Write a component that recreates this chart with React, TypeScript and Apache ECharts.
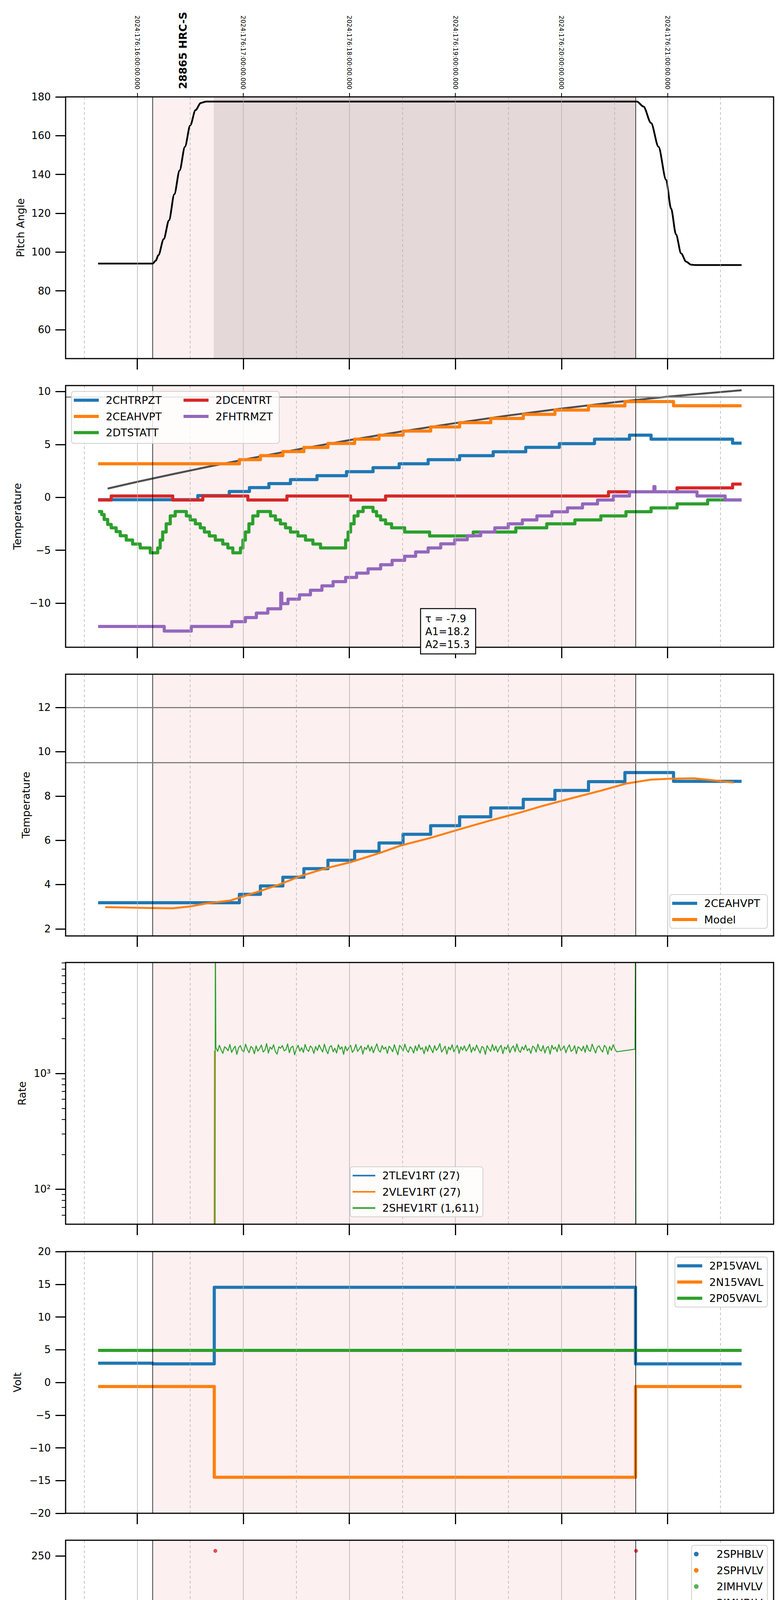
import React, { useEffect, useRef } from "react";
import * as echarts from "echarts";

// x values are minutes after 11:00 local (EDT) on 2024-06-24 (day 176); 60 -> 12h -> 16:00 UTC
const X_MIN = 19.5;
const X_MAX = 420;
const HOUR_TICKS = [60, 120, 180, 240, 300, 360];
const HALF_TICKS = [30, 90, 150, 210, 270, 330, 390];
const ALL_TICKS = [30, 60, 90, 120, 150, 180, 210, 240, 270, 300, 330, 360, 390];
const OBS_START = 68.8;
const OBS_STOP = 341.9;
const HV_ON = 103.3;

// y tick labels per panel
const PITCH_TICKS = [60, 80, 100, 120, 140, 160, 180];
const TEMP_TICKS = [-10, -5, 0, 5, 10];
const MODEL_TICKS = [2, 4, 6, 8, 10, 12];
const RATE_TICKS = [2, 3];
const RATE_MINOR = [60, 70, 80, 90, 200, 300, 400, 500, 600, 700, 800, 900, 2000, 3000, 4000, 5000, 6000, 7000, 8000, 9000];
const VOLT_TICKS = [-20, -15, -10, -5, 0, 5, 10, 15, 20];
const HV_TICKS = [0, 50, 100, 150, 200, 250];
const DET_TICKS = [0, 2.5, 5, 7.5, 10, 12.5, 15, 17.5];
const FEA_TICKS = [-10, -8, -6, -4, -2, 0];

// panel 1
const PITCH = [[37.9, 94.1], [68.8, 94.1], [70.5, 95.6], [72, 98.4], [75, 106.7], [78, 116.4], [81, 129.8], [84, 142.1], [87, 154.3], [90, 165.3], [93, 173.2], [96, 176.9], [99, 177.6], [342.7, 177.6], [346.4, 175.0], [350.7, 166.5], [354.9, 154.3], [359.2, 137.2], [362.0, 122.5], [364.8, 109.1], [367.7, 99.3], [370.5, 95.1], [373.3, 93.5], [376, 93.3], [401.9, 93.3]];

// panel 2
const FIT = [[43.3, 0.83], [60, 1.47], [80, 2.19], [100, 2.89], [120, 3.56], [150, 4.51], [180, 5.41], [210, 6.24], [240, 7.02], [270, 7.74], [300, 8.39], [330, 8.99], [360, 9.52], [401.9, 10.13]];
const CHTRPZT = [[37.9, -0.22], [94.3, 0.17], [112.1, 0.55], [123.5, 0.92], [134.5, 1.3], [146.7, 1.68], [161.7, 2.05], [178.4, 2.43], [193.4, 2.81], [208.2, 3.18], [224.6, 3.56], [242.4, 3.94], [261.4, 4.31], [279.8, 4.73], [298.8, 5.08], [318.7, 5.5], [338.5, 5.88], [350.7, 5.5], [396.8, 5.12], [401.9, 5.12]];
const CEAHVPT = [[37.9, 3.18], [117.8, 3.56], [129.7, 3.94], [142.4, 4.33], [154.3, 4.72], [167.9, 5.1], [183.0, 5.5], [196.8, 5.88], [210.4, 6.27], [226.0, 6.66], [242.4, 7.06], [260.0, 7.46], [278.4, 7.85], [296.3, 8.25], [315.3, 8.65], [335.9, 9.06], [363.4, 8.66], [401.9, 8.66]];
const DTSTATT = [[37.9, -1.34], [39.9, -1.62], [41.3, -2.09], [43.3, -2.56], [45.3, -2.88], [48.1, -3.24], [50.4, -3.63], [53.8, -4.03], [57.4, -4.41], [61.7, -4.78], [67.4, -5.24], [71.6, -4.78], [73.0, -4.03], [74.4, -3.28], [76.4, -2.5], [78.7, -1.75], [81.5, -1.34], [87.8, -1.75], [90.0, -2.13], [92.9, -2.5], [95.7, -2.88], [98.0, -3.28], [100.8, -3.65], [104.2, -4.03], [108.4, -4.41], [111.3, -4.78], [114.1, -5.24], [118.4, -4.78], [119.8, -4.03], [121.2, -3.28], [123.2, -2.5], [125.4, -1.75], [128.3, -1.34], [135.4, -1.75], [138.2, -2.13], [141.0, -2.5], [143.9, -2.88], [146.7, -3.28], [150.9, -3.65], [155.2, -4.03], [159.4, -4.41], [163.7, -4.78], [177.9, -4.03], [179.3, -3.28], [180.7, -2.5], [182.7, -1.75], [184.9, -1.34], [187.8, -0.94], [193.4, -1.34], [195.4, -1.75], [197.7, -2.13], [200.5, -2.5], [203.9, -2.88], [211.3, -3.28], [225.4, -3.65], [250.1, -3.28], [274.2, -2.88], [291.7, -2.5], [307.6, -2.13], [322.3, -1.75], [336.5, -1.36], [350.7, -1.0], [365.4, -0.62], [382.7, -0.24], [401.9, -0.24]];
const DCENTRT = [[37.9, -0.25], [45.3, 0.13], [80.1, -0.25], [97.1, 0.13], [122.6, -0.25], [144.7, 0.13], [180.7, -0.25], [200.5, 0.13], [326.6, 0.53], [365.4, 0.9], [396.8, 1.26], [401.9, 1.26]];
const FHTRMZT = [[37.9, -12.2], [75.3, -12.64], [90.6, -12.2], [113.5, -11.75], [121.2, -11.36], [127.4, -10.94], [133.9, -10.53], [141.2, -9.06], [141.8, -10.04], [145.3, -9.62], [151.8, -9.21], [158.0, -8.78], [164.5, -8.36], [170.8, -7.97], [177.9, -7.57], [184.1, -7.16], [190.6, -6.76], [197.7, -6.37], [204.2, -5.95], [211.3, -5.57], [217.5, -5.16], [224.6, -4.78], [231.7, -4.39], [239.6, -4.01], [246.7, -3.63], [254.3, -3.28], [262.3, -2.88], [269.9, -2.5], [277.9, -2.13], [286.1, -1.75], [294.6, -1.37], [303.4, -1.0], [311.9, -0.62], [320.4, -0.25], [329.4, 0.13], [338.5, 0.53], [352.3, 1.02], [352.9, 0.53], [376.7, 0.13], [392.6, -0.25], [401.9, -0.25]];

// panel 3
const MODEL = [[41.9, 2.98], [67.4, 2.94], [80.1, 2.93], [90.0, 3.01], [98.5, 3.14], [112.7, 3.28], [118.4, 3.43], [129.7, 3.71], [141.0, 4.02], [152.3, 4.38], [166.5, 4.73], [180.7, 5.01], [197.7, 5.44], [209.0, 5.76], [226.0, 6.11], [243.0, 6.51], [260.0, 6.9], [277.0, 7.26], [288.4, 7.53], [305.3, 7.89], [322.3, 8.24], [336.5, 8.56], [350.7, 8.74], [362.0, 8.78], [374.7, 8.8], [384.6, 8.72], [397.4, 8.61]];

// panel 4 (rates, counts/s)
const TLEV1RT = [[37.9, 27], [401.9, 27]];
const VLEV1RT = [[37.9, 20], [103.5, 20], [103.7, 1560], [103.9, 27], [401.9, 27]];
const RATE_T0 = 104.5;
const RATE_DT = 0.99;
const SHEV_NOISE = [
  1680, 1550, 1750, 1600, 1490, 1700, 1650, 1570, 1780, 1520, 1630, 1720, 1460, 1670, 1740, 1580, 1540, 1790, 1610, 1510, 1710, 1660, 1480, 1730, 1560, 1640, 1760, 1530, 1590, 1810,
  1500, 1690, 1620, 1770, 1540, 1470, 1700, 1650, 1740, 1570, 1600, 1800, 1510, 1680, 1720, 1450, 1630, 1750, 1560, 1670, 1520, 1780, 1610, 1550, 1730, 1660, 1490, 1710, 1580, 1760,
  1640, 1530, 1790, 1590, 1480, 1690, 1740, 1540, 1650, 1500, 1770, 1620, 1700, 1460, 1720, 1570, 1670, 1750, 1520, 1600, 1780, 1550, 1630, 1730, 1470, 1680, 1610, 1760, 1560, 1710,
  1510, 1660, 1800, 1580, 1530, 1740, 1620, 1690, 1490, 1720, 1650, 1540, 1770, 1590, 1450, 1750, 1680, 1560, 1790, 1600, 1520, 1700, 1640, 1500, 1730, 1570, 1780, 1610, 1670, 1480,
  1710, 1550, 1760, 1630, 1510, 1740, 1580, 1660, 1810, 1530, 1620, 1720, 1470, 1690, 1600, 1770, 1540, 1650, 1750, 1490, 1700, 1590, 1730, 1560, 1640, 1790, 1520, 1680, 1570, 1760,
  1610, 1500, 1710, 1670, 1460, 1740, 1630, 1550, 1780, 1580, 1720, 1530, 1660, 1750, 1480, 1690, 1620, 1770, 1510, 1650, 1730, 1540, 1800, 1590, 1520, 1700, 1600, 1760, 1570, 1640,
  1490, 1720, 1680, 1530, 1790, 1610, 1560, 1740, 1500, 1670, 1710, 1470, 1750, 1620, 1690, 1540, 1780, 1580, 1630, 1730, 1510, 1660, 1770, 1550, 1600, 1740, 1480, 1700, 1650, 1570,
  1720, 1520, 1760, 1590, 1550, 1790, 1640, 1500, 1690, 1730, 1610, 1530, 1750, 1680, 1460, 1710, 1580, 1770, 1630, 1540,
];

// panel 5
const P15VAVL = [[37.9, 2.94], [68.8, 2.83], [103.6, 14.54], [341.9, 2.83], [401.9, 2.83]];
const N15VAVL = [[37.9, -0.63], [103.6, -14.49], [341.9, -0.63], [401.9, -0.63]];
const P05VAVL = [[37.9, 4.89], [401.9, 4.89]];

// panel 6
const SPHBLV_PTS = [[104.8, 117.8], [105.1, 101.6], [105.4, 101.6], [105.9, 96.9], [106.5, 91.6], [107.0, 86.4], [107.9, 82.1], [108.7, 78.8]];
const SPHBLV_BAND = [[108.7, 77.5], [342.2, 77.5]];
const SPHVLV_PTS = [[104.5, 127.3], [104.6, 122.9], [105.1, 95.9], [105.6, 90.8], [106.5, 85.5], [107.0, 80.2], [107.9, 75.4], [281.0, 127.3], [290.0, 127.3], [310.2, 127.3], [317.0, 127.3], [318.9, 127.3], [322.3, 127.3], [200.0, 68.8], [211.3, 68.8], [225.4, 68.8], [235.4, 68.8], [245.3, 68.8], [253.8, 68.8], [265.1, 68.8], [268.9, 68.8], [273.5, 68.8], [276.2, 68.8], [282.1, 68.8], [286.4, 68.8], [289.8, 68.8], [294.9, 68.8], [299.1, 68.8], [302.7, 68.8], [307.5, 68.8], [311.8, 68.8], [315.2, 68.8], [320.6, 68.8], [324.3, 68.8], [328.9, 68.8], [331.4, 68.8], [336.2, 68.8], [339.7, 68.8]];
const SPHVLV_BAND = [[108.2, 70.7], [342.2, 70.7]];
const IMHVLV_PTS: number[][] = [];
const IMHBLV_PTS = [[104.2, 255.1], [342.2, 255.1]];

// panel 7
const SPINATM = [[103.6, 2.77], [107.0, 2.21], [113.3, 1.73], [117.8, 2.21], [118.9, 2.77], [120.1, 3.2], [121.2, 3.65], [122.3, 4.16], [123.5, 4.61], [124.9, 5.09], [126.3, 5.6], [127.7, 6.1], [129.1, 6.61], [130.3, 7.3], [133.1, 6.61], [134.8, 6.1], [136.8, 5.6], [138.8, 5.09], [141.0, 4.61], [143.9, 4.16], [146.7, 3.65], [150.1, 3.2], [154.3, 2.77], [160.3, 2.21], [169.9, 1.73], [177.9, 2.21], [179.0, 2.77], [180.1, 3.2], [181.3, 3.65], [182.4, 4.16], [183.5, 4.61], [184.7, 5.09], [185.8, 5.6], [186.9, 6.1], [188.1, 6.61], [189.2, 7.3], [190.9, 6.61], [192.6, 6.1], [194.8, 5.6], [196.8, 5.09], [199.1, 4.61], [201.9, 4.16], [205.3, 3.65], [209.6, 3.2], [216.9, 2.77], [228.3, 2.21], [326.6, 2.77], [341.6, 2.77]];
const SPHVATM = [[103.3, -10], [103.6, 11.32], [113.3, 11.66], [117.5, 11.98], [121.2, 12.33], [125.4, 12.67], [129.7, 12.99], [134.5, 13.32], [139.6, 13.66], [145.3, 13.98], [150.9, 14.3], [157.5, 14.65], [164.5, 14.97], [172.2, 15.31], [179.8, 15.66], [188.3, 16.0], [197.7, 16.35], [207.6, 16.7], [217.5, 17.06], [229.4, 17.42], [240.7, 17.76], [253.5, 18.11], [267.1, 18.47], [280.4, 18.85], [295.4, 19.23], [310.2, 19.6], [327.4, 19.88], [341.4, 25], [341.9, 25]];
const IMINATM = [[103.6, -0.96], [190.6, -0.51], [277.0, -0.11], [336.5, 0.37], [341.6, 0.37]];
const IMHVATM = [[103.3, -10], [103.6, 10.65], [135.4, 10.99], [150.1, 11.32], [163.1, 11.68], [176.4, 11.98], [188.3, 12.33], [201.1, 12.67], [212.4, 12.99], [226.6, 13.32], [240.2, 13.66], [252.9, 13.98], [267.1, 14.3], [280.4, 14.46], [293.4, 14.65], [296.8, 14.97], [310.2, 15.31], [328.0, 15.66], [341.6, 25], [341.9, -10], [342.2, -10]];

// panel 8
const FRADPYT = [[37.9, -12.1], [139.6, -11.3], [146.7, -10.9], [151.8, -10.47], [158.0, -10.06], [164.5, -9.63], [171.6, -9.21], [178.4, -8.8], [185.8, -8.39], [192.9, -7.97], [200.0, -7.56], [207.0, -7.16], [214.1, -6.76], [221.8, -6.36], [229.4, -5.96], [237.3, -5.57], [245.3, -5.17], [253.5, -4.78], [262.0, -4.4], [270.5, -4.02], [279.0, -3.64], [287.5, -3.29], [296.3, -2.89], [305.3, -2.5], [314.4, -2.11], [323.7, -1.73], [333.7, -1.36], [344.1, -0.99], [349.8, -1.36], [360.6, -1.73], [369.1, -2.11], [377.6, -2.5], [386.1, -2.89], [397.4, -3.27], [401.9, -3.27]];
const FEPRATM = [[37.9, -12.4], [108.4, -11.51], [111.3, -11.09], [114.1, -10.68], [117.8, -10.26], [122.0, -9.83], [126.9, -9.42], [132.5, -8.96], [138.2, -8.54], [143.9, -8.13], [150.4, -7.7], [156.0, -7.3], [162.6, -6.88], [168.8, -6.47], [175.9, -6.04], [183.0, -5.63], [190.0, -5.21], [197.1, -4.8], [204.2, -4.37], [211.3, -3.96], [218.9, -3.54], [226.6, -3.11], [234.5, -2.7], [242.4, -2.28], [250.9, -1.85], [260.0, -1.42], [269.4, -0.99], [278.4, -0.51], [293.4, -0.09], [295.4, 0.36], [307.6, 0.82], [311.0, 1.4], [401.9, 1.4]];
const FE00ATM = [[37.9, -13], [131.1, -11.53], [136.8, -11.13], [141.0, -10.8], [146.1, -10.42], [151.8, -10.04], [156.6, -9.69], [161.4, -9.32], [166.5, -8.92], [171.6, -8.58], [177.9, -8.18], [184.1, -7.83], [190.6, -7.47], [197.7, -7.11], [204.2, -6.75], [211.3, -6.4], [216.9, -6.04], [221.2, -5.68], [227.4, -5.32], [233.1, -4.96], [240.2, -4.61], [247.3, -4.28], [251.5, -3.99], [257.2, -3.64], [263.7, -3.3], [271.3, -2.94], [276.8, -3.7], [277.2, -2.64], [280.4, -2.1], [293.4, -1.61], [296.8, -1.26], [303.9, -0.94], [311.0, -0.61], [319.5, -0.28], [325.2, 0.06], [332.2, 0.39], [338.6, -0.35], [338.9, 0.68], [341.6, 3], [342.0, -13], [401.9, -13]];

// telemetry dropouts (minutes) where the detector channels swap values
const GLITCH_A = [[280.4, 281.0], [281.6, 282.2], [282.8, 283.4], [284.0, 284.6], [285.2, 285.8], [286.4, 287.0], [287.6, 288.2], [288.8, 289.4], [290.0, 290.6], [291.2, 291.8], [292.4, 293.4]];
const GLITCH_B = [[309.9, 310.5], [314.2, 314.7], [316.4, 316.9], [318.7, 319.3], [321.3, 321.9]];

const C = { blue: "#1f77b4", orange: "#ff7f0e", green: "#2ca02c", red: "#d62728", purple: "#9467bd" };
const PINK = "#fdf0f0";
const DARK = "#e4d8d8";
const FONT = "DejaVu Sans";

// the figure is drawn as two stacked charts (panels 1-4 and 5-8)
const SPLIT_Y = 3170;
const GRID_TOPS = [248, 987, 1726, 2464, 3204, 3943, 4682, 5421];
const NAME_GAPS = [102, 110, 88, 98, 110, 104, 110, 110];
const Y_NAMES = ["Pitch Angle", "Temperature", "Temperature", "Rate", "Volt", "HV Monitor", "Detector Temp", "FEA Temp"];
const Y_RANGES = [[45.1, 180], [-14.17, 10.57], [1.68, 13.5], [Math.log10(49.9), Math.log10(9080)], [-20, 20], [0, 265.9], [-2.47, 19.95], [-11.55, 0.95]];
const Y_TICKS = [PITCH_TICKS, TEMP_TICKS, MODEL_TICKS, RATE_TICKS, VOLT_TICKS, HV_TICKS, DET_TICKS, FEA_TICKS];
const H_LINES: Record<number, number[]> = { 1: [9.5], 2: [12, 9.5] };

function valueAt(pts: number[][], t: number) {
  let v = pts[0][1];
  for (const p of pts) {
    if (p[0] <= t) v = p[1];
    else break;
  }
  return v;
}

function withGlitches(pts: number[][], spans: number[][], value: number) {
  let out = pts.slice();
  for (const [a, b] of spans) {
    const back = valueAt(out, b);
    out = out.filter((p) => p[0] < a || p[0] > b);
    out.push([a, value], [b, back]);
    out.sort((p, q) => p[0] - q[0]);
  }
  return out;
}

const glitch = (pts: number[][], a: number, b: number) => withGlitches(withGlitches(pts, GLITCH_A, a), GLITCH_B, b);
const lg = (pts: number[][]) => pts.map(([t, v]) => [t, Math.log10(v)]);

function line(name: string, data: number[][], color: string, panel: number, width = 8, step: any = "end", extra: any = {}) {
  return {
    type: "line",
    name,
    data,
    panel,
    step,
    symbol: "none",
    showSymbol: false,
    silent: true,
    z: 3,
    lineStyle: { color, width, join: "round", cap: "butt" },
    itemStyle: { color },
    ...extra,
  };
}

function dots(name: string, data: number[][], color: string, panel: number) {
  return { type: "scatter", name, data, panel, symbolSize: 10, silent: true, z: 3, itemStyle: { color } };
}

function backdrop(panel: number) {
  const areas: any[] = [[{ xAxis: OBS_START }, { xAxis: OBS_STOP }]];
  if (panel === 0) areas.push([{ xAxis: HV_ON, itemStyle: { color: DARK } }, { xAxis: OBS_STOP }]);
  const lines: any[] = [
    ...HOUR_TICKS.map((x) => ({ xAxis: x, lineStyle: { color: "#b0b0b0", width: 1.5, type: "solid" } })),
    ...HALF_TICKS.map((x) => ({ xAxis: x, lineStyle: { color: "#b0b0b0", width: 1.5, type: [7, 6] } })),
    { xAxis: OBS_START, lineStyle: { color: "#000", width: 1.5, type: "solid" } },
    { xAxis: OBS_STOP, lineStyle: { color: "#000", width: 1.5, type: "solid" } },
    ...(H_LINES[panel] || []).map((y) => ({ yAxis: y, lineStyle: { color: "#808080", width: 3, type: "solid" } })),
  ];
  return [
    {
      type: "line", data: [], panel, z: 1, silent: true,
      markArea: { silent: true, itemStyle: { color: PINK }, data: areas },
    },
    {
      type: "line", data: [], panel, z: 2, silent: true,
      markLine: { silent: true, symbol: ["none", "none"], label: { show: false }, data: lines },
    },
  ];
}

function yLabel(panel: number) {
  return (v: number) => {
    if (panel === 3) return v === 2 ? "10\u00b2" : "10\u00b3";
    const s = panel === 6 ? v.toFixed(1) : String(v);
    return s.replace("-", "\u2212");
  };
}

const legendBase = {
  orient: "vertical",
  icon: "rect",
  itemWidth: 64,
  itemHeight: 8,
  itemGap: 14.5,
  padding: [9, 10, 9, 6],
  selectedMode: false,
  backgroundColor: "rgba(255,255,255,0.8)",
  borderColor: "#d0d0d0",
  borderWidth: 2,
  borderRadius: 6,
  z: 8,
  textStyle: { fontSize: 27, color: "#000", fontFamily: FONT, padding: [0, 0, 0, 13] },
};

function allSeries() {
  const series: any[] = [];
  for (let p = 0; p < 8; p++) series.push(...backdrop(p));

  // panel 1
  series.push(line("Pitch", PITCH, "#000", 0, 4.5, false, { smooth: 0.3, smoothMonotone: "x" }));
  // panel 2
  series.push(line("fit", FIT, "rgba(60,60,60,0.9)", 1, 5, false));
  series.push(line("2CHTRPZT", CHTRPZT, C.blue, 1));
  series.push(line("2CEAHVPT", CEAHVPT, C.orange, 1));
  series.push(line("2DTSTATT", DTSTATT, C.green, 1));
  series.push(line("2DCENTRT", DCENTRT, C.red, 1));
  series.push(line("2FHTRMZT", FHTRMZT, C.purple, 1));
  // panel 3
  series.push(line("2CEAHVPT ", CEAHVPT, C.blue, 2));
  series.push(line("Model", MODEL, C.orange, 2, 5, false));
  // panel 4
  const shev = [[37.9, 12], [104.0, 12], [104.2, 20000], ...SHEV_NOISE.map((v, k) => [RATE_T0 + k * RATE_DT, v]), [341.6, 1620], [341.9, 20000], [342.1, 12], [401.9, 12]];
  series.push(line("2TLEV1RT (27)", lg(TLEV1RT), C.blue, 3, 2.5, false));
  series.push(line("2VLEV1RT (27)", lg(VLEV1RT), C.orange, 3, 2.5, false));
  series.push(line("2SHEV1RT (1,611)", lg(shev), C.green, 3, 2.5, false));
  // panel 5
  series.push(line("2P15VAVL", P15VAVL, C.blue, 4));
  series.push(line("2N15VAVL", N15VAVL, C.orange, 4));
  series.push(line("2P05VAVL", P05VAVL, C.green, 4));
  // panel 6
  series.push(line("2SPHBLV", SPHBLV_BAND, C.blue, 5, 14, false, { lineStyle: { color: C.blue, width: 14, cap: "round" } }));
  series.push(dots("2SPHBLV", SPHBLV_PTS, C.blue, 5));
  series.push(line("2SPHVLV", SPHVLV_BAND, C.orange, 5, 10, false, { lineStyle: { color: C.orange, width: 10, cap: "round" } }));
  series.push(dots("2SPHVLV", SPHVLV_PTS, C.orange, 5));
  series.push(dots("2IMHVLV", IMHVLV_PTS, C.green, 5));
  series.push(dots("2IMHBLV", IMHBLV_PTS, C.red, 5));
  // panel 7
  series.push(line("2SPINATM", glitch(SPINATM, -5, -5), C.blue, 6));
  series.push(line("2SPHVATM", glitch(SPHVATM, 9.02, 9.66), C.orange, 6));
  series.push(line("2IMINATM", glitch(IMINATM, 2.32, 2.32), C.green, 6));
  series.push(line("2IMHVATM", glitch(IMHVATM, 18.95, 19.62), C.red, 6));
  // panel 8
  series.push(line("2FHTRMZT ", FHTRMZT, C.blue, 7));
  series.push(line("2FRADPYT", FRADPYT, C.orange, 7));
  series.push(line("2FEPRATM", glitch(FEPRATM, -9.02, -9.02), C.green, 7));
  series.push(line("2FE00ATM", glitch(FE00ATM, 3, 3), C.red, 7));
  return series;
}

const LEGENDS = [
  { panel: 1, left: 183, top: 1002, backgroundColor: "transparent", borderWidth: 0, data: ["2CHTRPZT", "2CEAHVPT", "2DTSTATT"] },
  { panel: 1, left: 464, top: 1002, backgroundColor: "transparent", borderWidth: 0, data: ["2DCENTRT", "2FHTRMZT"] },
  { panel: 2, right: 35, top: 2290, data: ["2CEAHVPT ", "Model"] },
  { panel: 3, left: 897, top: 2987, itemWidth: 58, itemHeight: 4, data: ["2TLEV1RT (27)", "2VLEV1RT (27)", "2SHEV1RT (1,611)"] },
  { panel: 4, right: 35, top: 3218, data: ["2P15VAVL", "2N15VAVL", "2P05VAVL"] },
  {
    panel: 5, right: 35, top: 3956, icon: "circle", itemHeight: 12,
    textStyle: { ...legendBase.textStyle, padding: [0, 0, 0, 15] },
    data: ["2SPHBLV", "2SPHVLV", "2IMHVLV", "2IMHBLV"],
  },
  { panel: 6, right: 35, top: 4695, data: ["2SPINATM", "2SPHVATM", "2IMINATM", "2IMHVATM"] },
  { panel: 7, right: 35, top: 5901, data: ["2FHTRMZT ", "2FRADPYT", "2FEPRATM", "2FE00ATM"] },
];

function buildOption(part: number) {
  const first = part * 4;
  const offset = part === 0 ? 0 : SPLIT_Y;
  const panels = [first, first + 1, first + 2, first + 3];

  const grids = panels.map((p) => ({
    left: 168, top: GRID_TOPS[p] - offset, width: 1813, height: 670, show: true, borderColor: "#000", borderWidth: 3,
    backgroundColor: "transparent", z: 6,
  }));

  const xAxes: any[] = panels.map((p, g) => ({
    type: "value",
    gridIndex: g,
    min: X_MIN,
    max: X_MAX,
    axisLine: { show: false, onZero: false },
    axisTick: { show: true, customValues: HOUR_TICKS, length: 28, lineStyle: { color: "#000", width: 3 } },
    splitLine: { show: false },
    axisLabel:
      p === 7
        ? {
            customValues: ALL_TICKS,
            margin: 6,
            color: "#000",
            fontFamily: FONT,
            formatter: (v: number) => (v % 60 === 0 ? `{h|${11 + v / 60}h}` : "{m|30}"),
            rich: {
              h: { fontSize: 27, fontFamily: FONT, color: "#000", padding: [29, 0, 0, 0] },
              m: { fontSize: 18, fontFamily: FONT, color: "#000" },
            },
          }
        : { show: false },
    name: p === 7 ? "2024-06-24 (176)" : "",
    nameLocation: "middle",
    nameGap: 70,
    nameTextStyle: { fontSize: 32, color: "#000", fontFamily: FONT },
  }));

  const yAxes: any[] = panels.map((p, g) => ({
    type: "value",
    gridIndex: g,
    position: "left",
    min: Y_RANGES[p][0],
    max: Y_RANGES[p][1],
    axisLine: { show: false, onZero: false },
    splitLine: { show: false },
    axisTick: { show: true, customValues: Y_TICKS[p], length: 26, lineStyle: { color: "#000", width: 3 } },
    axisLabel: { customValues: Y_TICKS[p], formatter: yLabel(p), fontSize: 26, color: "#000", fontFamily: FONT, margin: 38 },
    name: Y_NAMES[p],
    nameLocation: "middle",
    nameGap: NAME_GAPS[p],
    nameTextStyle: { fontSize: 27, color: "#000", fontFamily: FONT },
  }));

  let graphic: any[] = [];
  if (part === 0) {
    xAxes.push({
      type: "value",
      gridIndex: 0,
      position: "top",
      min: X_MIN,
      max: X_MAX,
      axisLine: { show: false, onZero: false },
      axisTick: { show: true, customValues: HOUR_TICKS, length: 10, lineStyle: { color: "#000", width: 2 } },
      splitLine: { show: false },
      axisLabel: {
        customValues: HOUR_TICKS,
        rotate: 90,
        margin: 19,
        fontSize: 16,
        color: "#000",
        fontFamily: FONT,
        formatter: (v: number) => `2024:176:${15 + v / 60}:00:00.000`,
      },
    });
    yAxes.push({
      type: "value",
      gridIndex: 3,
      position: "left",
      min: Y_RANGES[3][0],
      max: Y_RANGES[3][1],
      axisLine: { show: false, onZero: false },
      splitLine: { show: false },
      axisTick: { show: true, customValues: RATE_MINOR.map((v) => Math.log10(v)), length: 10, lineStyle: { color: "#000", width: 2 } },
      axisLabel: { show: false },
    });
    graphic = [
      {
        type: "rect", z: 7, silent: true,
        shape: { x: 183, y: 1002, width: 532, height: 133, r: 6 },
        style: { fill: "rgba(255,255,255,0.8)", stroke: "#d0d0d0", lineWidth: 2 },
      },
      {
        type: "rect", z: 10, silent: true,
        shape: { x: 1077, y: 1558, width: 141, height: 116 },
        style: { fill: "#fff", stroke: "#000", lineWidth: 2.5 },
      },
      {
        type: "text", z: 11, silent: true, x: 1089, y: 1567,
        style: { text: "\u03c4 = -7.9\nA1=18.2\nA2=15.3", font: `26px "${FONT}"`, lineHeight: 33, fill: "#000" },
      },
      {
        type: "text", x: 468, y: 228, rotation: Math.PI / 2, z: 10, silent: true,
        style: { text: "28865 HRC-S", font: `bold 27px "${FONT}"`, fill: "#000", textAlign: "left", textVerticalAlign: "middle" },
      },
    ];
  }

  const series = allSeries()
    .filter((s) => s.panel >= first && s.panel < first + 4)
    .map(({ panel, ...s }) => ({ ...s, xAxisIndex: panel - first, yAxisIndex: panel - first }));

  const legend = LEGENDS.filter((l) => l.panel >= first && l.panel < first + 4).map(({ panel, ...l }) => ({
    ...legendBase,
    ...l,
    top: l.top - offset,
  }));

  return {
    animation: false,
    backgroundColor: "#fff",
    textStyle: { fontFamily: FONT },
    grid: grids,
    xAxis: xAxes,
    yAxis: yAxes,
    legend,
    graphic,
    series,
  };
}

function ChartPart({ part, height }: { part: number; height: number }) {
  const chartRef = useRef<HTMLDivElement>(null);
  useEffect(() => {
    if (!chartRef.current) return;
    const chart = echarts.init(chartRef.current, null, { renderer: "svg" });
    chart.setOption(buildOption(part) as any);
    return () => {
      chart.dispose();
    };
  }, [part]);
  return <div ref={chartRef} style={{ width: "2000px", height: `${height}px` }} />;
}

export default function App() {
  return (
    <div style={{ width: "2000px", margin: "-8px", background: "#fff" }}>
      <ChartPart part={0} height={SPLIT_Y} />
      <ChartPart part={1} height={6200 - SPLIT_Y} />
    </div>
  );
}
